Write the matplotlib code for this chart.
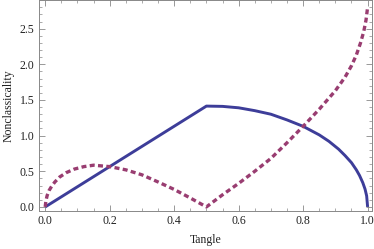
import matplotlib
matplotlib.use('Agg')
import numpy as np
import matplotlib.pyplot as plt
from matplotlib.ticker import MultipleLocator

# values
tangle_solid = [0.0, 0.5, 0.55, 0.6, 0.65, 0.7, 0.75, 0.8, 0.85, 0.88, 0.91, 0.93, 0.95, 0.965,
                0.975, 0.985, 0.992, 0.997, 1.0]
nonclass_solid = [0.0, 1.414, 1.41, 1.39, 1.35, 1.30, 1.22, 1.13, 1.01, 0.92, 0.81, 0.72, 0.62, 0.52,
                  0.44, 0.34, 0.25, 0.155, 0.0]

tangle_dash = [0.0, 0.002, 0.006, 0.012, 0.02, 0.03, 0.045, 0.065, 0.09, 0.12, 0.15, 0.2, 0.25, 0.3,
               0.35, 0.4, 0.45, 0.5,
               0.55, 0.6, 0.65, 0.7, 0.75, 0.8, 0.85, 0.9, 0.93, 0.95, 0.965, 0.978, 0.988, 0.995, 1.0]
nonclass_dash = [0.0, 0.08, 0.16, 0.23, 0.29, 0.35, 0.42, 0.48, 0.53, 0.565, 0.585, 0.565, 0.52, 0.45,
                 0.35, 0.245, 0.125, 0.0,
                 0.17, 0.33, 0.50, 0.68, 0.90, 1.13, 1.37, 1.63, 1.82, 1.98, 2.13, 2.30, 2.46, 2.62, 2.8]

plt.rcParams['font.family'] = ['Liberation Serif', 'DejaVu Serif']

fig = plt.figure(figsize=(3.74, 2.49), dpi=100)
ax = fig.add_axes([0.104, 0.153, 0.891, 0.845])

blue = '#3D3D99'
purple = '#993D71'
ax.plot(tangle_solid, nonclass_solid, color=blue, lw=2.1, solid_capstyle='butt', solid_joinstyle='round')
ax.plot(tangle_dash, nonclass_dash, color=purple, lw=2.4, linestyle=(0, (1.5, 1.0)))

ax.set_xlim(-0.0196, 1.014)
ax.set_ylim(-0.056, 2.895)

ax.xaxis.set_major_locator(MultipleLocator(0.2))
ax.xaxis.set_minor_locator(MultipleLocator(0.05))
ax.yaxis.set_major_locator(MultipleLocator(0.5))
ax.yaxis.set_minor_locator(MultipleLocator(0.1))
ax.xaxis.set_major_formatter(matplotlib.ticker.FormatStrFormatter('%.1f'))
ax.yaxis.set_major_formatter(matplotlib.ticker.FormatStrFormatter('%.1f'))

ax.tick_params(which='both', direction='in', top=True, right=True, color='#888888',
               labelsize=8.5, labelcolor='#222222', pad=3)
ax.tick_params(which='major', length=4, width=0.6)
ax.tick_params(which='minor', length=2, width=0.5)
for s in ax.spines.values():
    s.set_color('#888888')
    s.set_linewidth(0.7)

ax.set_xlabel('Tangle', fontsize=8.5, color='#222222', labelpad=5)
ax.set_ylabel('Nonclassicality', fontsize=8.5, color='#222222', labelpad=4)

fig.savefig('out.png', dpi=100)
